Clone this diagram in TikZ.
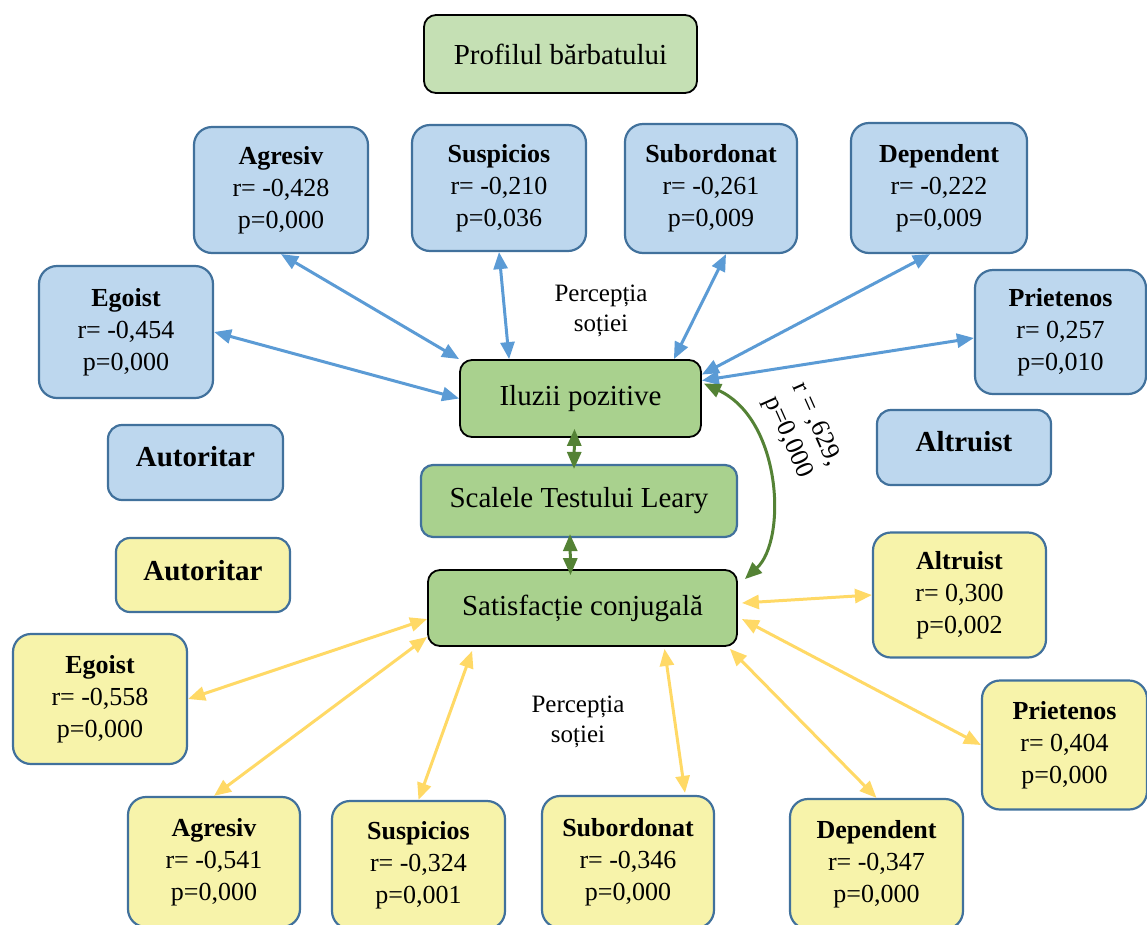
\documentclass[tikz,border=0pt]{standalone}
\usepackage{fontspec}
\setmainfont{Liberation Serif}
\usetikzlibrary{arrows.meta}
\definecolor{bfill}{HTML}{BDD7EE}
\definecolor{bdraw}{HTML}{41719C}
\definecolor{yfill}{HTML}{F7F3AA}
\definecolor{gfill}{HTML}{A9D18E}
\definecolor{pfill}{HTML}{C5E0B4}
\definecolor{barrowc}{HTML}{5B9BD5}
\definecolor{yarrowc}{HTML}{FFD966}
\definecolor{garrowc}{HTML}{548235}
\tikzset{
  box/.style={rounded corners=18pt, line width=2.2pt, inner sep=0pt, align=center,
    font=\fontsize{26}{32}\selectfont},
  bluebox/.style={box, draw=bdraw, fill=bfill},
  yelbox/.style={box, draw=bdraw, fill=yfill},
  mainbox/.style={rounded corners=12pt, line width=1.8pt, draw=black, fill=gfill,
    inner sep=0pt, font=\fontsize{29}{34}\selectfont},
  tipb/.tip={Triangle[length=17pt,width=14pt]},
  conn/.style={line width=3pt, tipb-tipb},
  barrow/.style={conn, draw=barrowc},
  yarrow/.style={conn, draw=yarrowc},
  garrow/.style={conn, draw=garrowc},
  lbl/.style={align=center, font=\fontsize{25}{30}\selectfont, inner sep=0pt}
}
\begin{document}
\begin{tikzpicture}[x=1pt,y=-1pt]
\useasboundingbox (0,0) rectangle (1147,924);
\clip (0,0) rectangle (1147,924);
% top
\node[mainbox, fill=pfill, minimum width=273pt, minimum height=78pt] (prof) at (560.5,54) {Profilul bărbatului};
% blue boxes
\node[bluebox, minimum width=174pt, minimum height=126pt] (agrB) at (281,190) {\textbf{Agresiv}\\r= -0,428\\p=0,000};
\node[bluebox, minimum width=174pt, minimum height=126pt] (susB) at (499,188) {\textbf{Suspicios}\\r= -0,210\\p=0,036};
\node[bluebox, minimum width=172pt, minimum height=129pt] (subB) at (711,188.5) {\textbf{Subordonat}\\r= -0,261\\p=0,009};
\node[bluebox, minimum width=176pt, minimum height=130pt] (depB) at (939,188) {\textbf{Dependent}\\r= -0,222\\p=0,009};
\node[bluebox, minimum width=174pt, minimum height=132pt] (egoB) at (126,332) {\textbf{Egoist}\\r= -0,454\\p=0,000};
\node[bluebox, minimum width=171pt, minimum height=124pt] (priB) at (1060.5,332) {\textbf{Prietenos}\\r= 0,257\\p=0,010};
\node[bluebox, rounded corners=14pt, minimum width=175pt, minimum height=75pt, font=\fontsize{29}{34}\selectfont\bfseries, text depth=12pt] (autB) at (195.5,462.5) {Autoritar};
\node[bluebox, rounded corners=14pt, minimum width=174pt, minimum height=75pt, font=\fontsize{29}{34}\selectfont\bfseries, text depth=12pt] (altB) at (964,447.5) {Altruist};
% main boxes
\node[mainbox, minimum width=241pt, minimum height=77pt] (ilu) at (580.5,398.5) {Iluzii pozitive};
\node[mainbox, draw=bdraw, line width=2.2pt, minimum width=316pt, minimum height=72pt] (leary) at (579,501) {Scalele Testului Leary};
\node[mainbox, minimum width=309pt, minimum height=76pt] (sat) at (582.5,608) {Satisfacție conjugală};
% yellow boxes
\node[yelbox, rounded corners=14pt, minimum width=174pt, minimum height=74pt, font=\fontsize{29}{34}\selectfont\bfseries, text depth=10pt] (autY) at (203,575) {Autoritar};
\node[yelbox, minimum width=173pt, minimum height=125pt] (altY) at (959.5,595) {\textbf{Altruist}\\r= 0,300\\p=0,002};
\node[yelbox, minimum width=174pt, minimum height=130pt] (egoY) at (100,699) {\textbf{Egoist}\\r= -0,558\\p=0,000};
\node[yelbox, minimum width=165pt, minimum height=129pt] (priY) at (1064.5,745) {\textbf{Prietenos}\\r= 0,404\\p=0,000};
\node[yelbox, minimum width=172pt, minimum height=130pt] (agrY) at (214,862) {\textbf{Agresiv}\\r= -0,541\\p=0,000};
\node[yelbox, minimum width=173pt, minimum height=128pt] (susY) at (418.5,865) {\textbf{Suspicios}\\r= -0,324\\p=0,001};
\node[yelbox, minimum width=172pt, minimum height=132pt] (subY) at (628,862) {\textbf{Subordonat}\\r= -0,346\\p=0,000};
\node[yelbox, minimum width=173pt, minimum height=130pt] (depY) at (876.5,864) {\textbf{Dependent}\\r= -0,347\\p=0,000};
% labels
\node[lbl] (perc1) at (601,311) {Percepția\\soției};
\node[lbl] (perc2) at (578,722) {Percepția\\soției};
\node[lbl, rotate=-66, font=\fontsize{26}{31}\selectfont] (rlab) at (802,431) {r = ,629,\\p=0,000};
% blue arrows
\draw[barrow] (egoB.east) -- (ilu.west);
\draw[barrow] (agrB.south) -- (ilu.north west);
\draw[barrow] (susB.south) -- ([xshift=50pt]ilu.north west);
\draw[barrow] ([xshift=15pt]subB.south) -- ([xshift=-28pt]ilu.north east);
\draw[barrow] ([xshift=-9pt]depB.south) -- ([yshift=24pt]ilu.east);
\draw[barrow] ([yshift=-6pt]priB.west) -- ([yshift=18pt]ilu.east);
% green arrows
\draw[garrow] ([xshift=-6pt,yshift=9pt]ilu.south) -- ([xshift=-5pt,yshift=-5pt]leary.north);
\draw[garrow] ([xshift=-9pt,yshift=4pt]leary.south) -- ([xshift=-12pt,yshift=-6pt]sat.north);
\draw[garrow] ([xshift=2pt,yshift=15pt]ilu.east) .. controls (782,420) and (787,540) .. ([xshift=7pt,yshift=-10pt]sat.north east);
% yellow arrows
\draw[yarrow] (egoY.east) -- ([yshift=-11pt]sat.west);
\draw[yarrow] (agrY.north) -- ([yshift=10pt]sat.south west);
\draw[yarrow] (susY.north) -- ([xshift=45pt,yshift=-4pt]sat.south west);
\draw[yarrow] ([xshift=57pt,yshift=2pt]subY.north) -- ([xshift=82pt,yshift=-2pt]sat.south);
\draw[yarrow] (depY.north) -- ([xshift=-8pt,yshift=-2pt]sat.south east);
\draw[yarrow] (priY.west) -- ([xshift=4pt,yshift=-11pt]sat.east);
\draw[yarrow] (altY.west) -- ([xshift=4pt,yshift=5pt]sat.east);
\end{tikzpicture}
\end{document}
